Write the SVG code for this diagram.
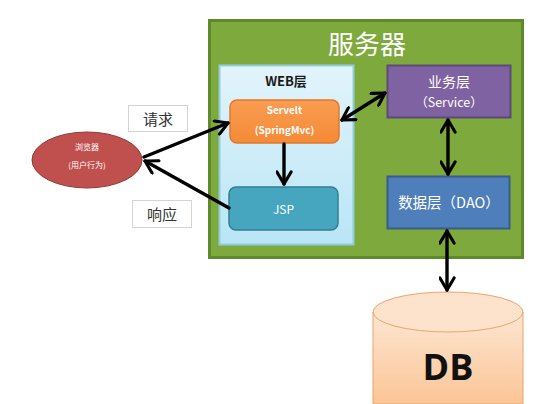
<svg xmlns="http://www.w3.org/2000/svg" width="541" height="404" viewBox="0 0 541 404">
<style>
.cn{font-family:"Noto Sans CJK SC","Noto Sans",sans-serif}
.w{fill:#fff}
.ln{stroke:#000;stroke-width:3.4;fill:none;stroke-linecap:round}
</style>
<defs>
<linearGradient id="gWeb" x1="0" y1="0" x2="0" y2="1"><stop offset="0" stop-color="#e2f4fb"/><stop offset="1" stop-color="#b9e5f6"/></linearGradient>
<linearGradient id="gDb" x1="0" y1="0" x2="0" y2="1"><stop offset="0" stop-color="#fde6d2"/><stop offset="1" stop-color="#fbc596"/></linearGradient>
<linearGradient id="gOr" x1="0" y1="0" x2="0" y2="1"><stop offset="0" stop-color="#f99d52"/><stop offset="1" stop-color="#f58a36"/></linearGradient>
<marker id="ah" viewBox="0 0 12 12" refX="10" refY="6" markerWidth="5" markerHeight="5" orient="auto-start-reverse" markerUnits="strokeWidth">
<polyline points="1.5,1 10,6 1.5,11" fill="none" stroke="#000" stroke-width="2.2" stroke-linecap="round" stroke-linejoin="round"/>
</marker>
</defs>
<rect width="541" height="404" fill="#fff"/>
<g id="server">
<rect x="209.5" y="20.5" width="313" height="237" fill="#7ea93d" stroke="#5d8a2b" stroke-width="3"/>
<text x="367" y="54" class="cn w" font-size="26" text-anchor="middle">服务器</text>
</g>
<g id="web">
<rect x="219.5" y="65.5" width="134" height="179" fill="url(#gWeb)" stroke="#93cddd" stroke-width="2"/>
<text x="286" y="86" class="cn" font-size="13" font-weight="bold" text-anchor="middle" fill="#1a1a1a">WEB层</text>
</g>
<g id="servelt">
<rect x="230" y="100" width="109" height="43" rx="7" fill="url(#gOr)" stroke="#e0782c" stroke-width="1.5"/>
<text x="284.5" y="114" class="cn w" font-size="10" font-weight="bold" text-anchor="middle">Servelt</text>
<text x="284.5" y="134" class="cn w" font-size="10" font-weight="bold" text-anchor="middle">(SpringMvc)</text>
</g>
<g id="jsp">
<rect x="229" y="187" width="109" height="43" rx="7" fill="#46a6bf" stroke="#357d91" stroke-width="1.5"/>
<text x="283.5" y="214" class="cn w" font-size="12" text-anchor="middle">JSP</text>
</g>
<g id="service">
<rect x="387.5" y="65.5" width="123" height="52" fill="#7f62a1" stroke="#5f497a" stroke-width="2"/>
<text x="449" y="87" class="cn w" font-size="14" text-anchor="middle">业务层</text>
<text x="449" y="107" class="cn w" font-size="12.5" text-anchor="middle">（Service）</text>
</g>
<g id="dao">
<rect x="387.5" y="176.5" width="122" height="52" fill="#4e7fbb" stroke="#385d8a" stroke-width="2"/>
<text x="449" y="208" class="cn w" font-size="14.5" text-anchor="middle">数据层（DAO）</text>
</g>
<g id="browser">
<ellipse cx="87" cy="160" rx="55" ry="28" fill="#c0504d" stroke="#8c3836" stroke-width="1"/>
<text x="87" y="150" class="cn w" font-size="8" text-anchor="middle">浏览器</text>
<text x="87" y="168" class="cn w" font-size="8" text-anchor="middle">(用户行为)</text>
</g>
<g id="label-req">
<rect x="128.5" y="105.5" width="59" height="26" fill="#fff" stroke="#d4d4d4" stroke-width="1"/>
<text x="158" y="124.5" class="cn" font-size="15" text-anchor="middle" fill="#333">请求</text>
</g>
<g id="label-resp">
<rect x="132.5" y="200.5" width="59" height="27" fill="#fff" stroke="#d4d4d4" stroke-width="1"/>
<text x="162" y="219.5" class="cn" font-size="15" text-anchor="middle" fill="#333">响应</text>
</g>
<g id="db">
<path d="M373,312 L373,404 L523,404 L523,312" fill="url(#gDb)" stroke="#eaa36e" stroke-width="1"/>
<ellipse cx="448" cy="312" rx="75" ry="20" fill="#fde3cc" stroke="#eaa36e" stroke-width="1"/>
<text x="448" y="380" font-family="Open Sans,Noto Sans,sans-serif" font-size="36" font-weight="bold" text-anchor="middle" fill="#111">DB</text>
</g>
<g id="connectors">
<line class="ln" x1="144" y1="157" x2="228" y2="123" marker-end="url(#ah)"/>
<line class="ln" x1="229" y1="208" x2="145" y2="161" marker-end="url(#ah)"/>
<line class="ln" x1="342" y1="120" x2="385" y2="93" marker-start="url(#ah)" marker-end="url(#ah)"/>
<line class="ln" x1="284" y1="144" x2="284" y2="184" marker-end="url(#ah)"/>
<line class="ln" x1="448" y1="120" x2="448" y2="174" marker-start="url(#ah)" marker-end="url(#ah)"/>
<line class="ln" x1="447" y1="231" x2="447" y2="290" marker-start="url(#ah)" marker-end="url(#ah)"/>
</g>
</svg>
